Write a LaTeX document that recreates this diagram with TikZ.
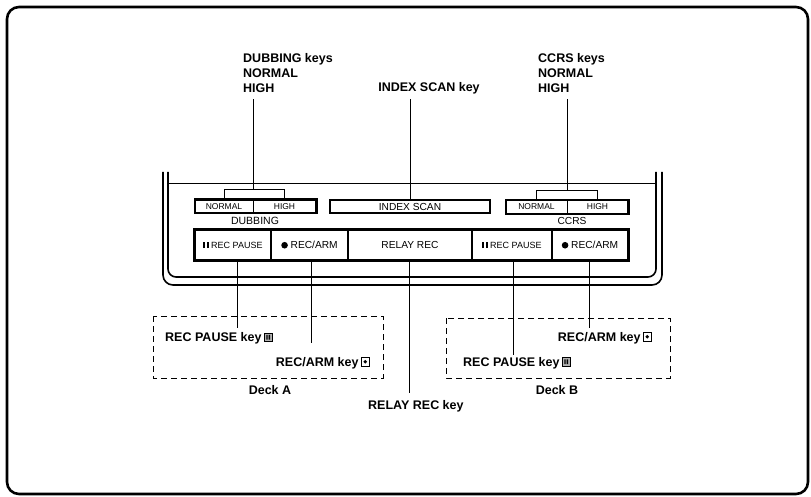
\documentclass[tikz,border=0pt]{standalone}
\usepackage{fontspec}
\setmainfont{Liberation Sans}
\usetikzlibrary{positioning}

\newcommand{\pauseicon}{\tikz[baseline=0pt]{\draw[line width=0.6pt,fill=gray!60] (0pt,0pt) rectangle (8.5pt,8.5pt); \fill (2.4pt,1.8pt) rectangle (3.7pt,6.7pt) (4.8pt,1.8pt) rectangle (6.1pt,6.7pt);}}
\newcommand{\armicon}{\tikz[baseline=0pt]{\draw[line width=0.6pt] (0pt,0pt) rectangle (8.5pt,8.5pt); \fill (4.25pt,4.25pt) circle (1.9pt);}}
\newcommand{\pausebars}{\rule{2pt}{6.5pt}\hspace{1.2pt}\rule{2pt}{6.5pt}}
\newcommand{\armdot}{\tikz[baseline=0pt]\fill (0pt,3.4pt) circle (3.3pt);}

\begin{document}
\begin{tikzpicture}[x=1pt, y=-1pt,
  lbl/.style={font=\fontsize{12.5}{15}\selectfont\bfseries, inner sep=0pt},
  keybox/.style={draw, line width=0.8pt, inner sep=0pt, minimum height=13pt, font=\fontsize{8.5}{10}\selectfont},
  padkey/.style={draw, line width=1.6pt, inner sep=0pt, minimum height=30pt, font=\fontsize{10.2}{12}\selectfont},
  leader/.style={line width=0.9pt},
  deckbox/.style={line width=0.8pt, dash pattern=on 6pt off 4pt}]

\useasboundingbox (0,0) rectangle (811,497);
\draw[line width=2.6pt, rounded corners=12pt] (7,7) rectangle (808,494);

% panel outline
\draw[line width=1.6pt, rounded corners=10pt] (163,172) -- (163,285) -- (662,285) -- (662,172);
\draw[line width=1.6pt, rounded corners=8pt] (168,172) -- (168,277) -- (656,277) -- (656,172);
\draw[line width=0.7pt] (168,183) -- (656,183);

% upper keys
\node[keybox, minimum width=58pt] (dubNormal) at (224,206.5) {NORMAL};
\node[keybox, minimum width=63pt] (dubHigh) at (284.5,206.5) {HIGH};
\draw[line width=2.2pt] (dubNormal.north west) rectangle (dubHigh.south east);
\node[font=\fontsize{10.5}{12}\selectfont, inner sep=0pt] (dubLabel) at (255,221) {DUBBING};

\node[keybox, line width=2.2pt, minimum width=160pt, font=\fontsize{10.2}{12}\selectfont] (idxScan) at (410,206.5) {INDEX SCAN};

\node[keybox, minimum width=61pt] (ccrsNormal) at (536.5,207) {NORMAL};
\node[keybox, minimum width=61pt] (ccrsHigh) at (597.5,207) {HIGH};
\draw[line width=2.2pt] (ccrsNormal.north west) rectangle (ccrsHigh.south east);
\node[font=\fontsize{10.2}{12}\selectfont, inner sep=0pt] (ccrsLabel) at (572,221) {CCRS};

% lower keys
\node[padkey, minimum width=76pt] (pauseA) at (233,245) {{\fontsize{9}{10}\selectfont\pausebars\ REC PAUSE}};
\node[padkey, minimum width=77pt] (armA) at (309.5,245) {\armdot\ REC/ARM};
\node[padkey, minimum width=124pt] (relay) at (410,245) {RELAY REC};
\node[padkey, minimum width=80pt] (pauseB) at (512,245) {{\fontsize{9}{10}\selectfont\pausebars\ REC PAUSE}};
\node[padkey, minimum width=76pt] (armB) at (590,245) {\armdot\ REC/ARM};
\draw[line width=2.6pt] (pauseA.north west) rectangle (armB.south east);

% labels above
\node[lbl, anchor=north west, align=left] (dubKeys) at (243,53.5) {DUBBING keys\\NORMAL\\HIGH};
\node[lbl, anchor=base] (idxKey) at (429,92) {INDEX SCAN key};
\node[lbl, anchor=north west, align=left] (ccrsKeys) at (538,53.5) {CCRS keys\\NORMAL\\HIGH};

\draw[leader] (dubNormal.north) -- ++(0,-10) -| (dubHigh.north);
\draw[leader] ([yshift=10pt]dubNormal.north east) -- ([yshift=-6pt]dubNormal.north east |- dubKeys.south);
\draw[leader] (idxScan.north) -- ([yshift=-4pt]idxScan.north |- idxKey.south);
\draw[leader] (ccrsNormal.north) -- ++(0,-10) -| (ccrsHigh.north);
\draw[leader] ([yshift=10pt]ccrsNormal.north east) -- ([yshift=-6pt]ccrsNormal.north east |- ccrsKeys.south);

% deck A
\draw[deckbox] (153,316) rectangle (383,378);
\node[lbl, anchor=base west] (pauseKeyA) at (165,341.5) {REC PAUSE key\,\pauseicon};
\node[lbl, anchor=base east] (armKeyA) at (370,366) {REC/ARM key\,\armicon};
\node[lbl, anchor=base] (deckA) at (270,394) {Deck A};

% deck B
\draw[deckbox] (446,318) rectangle (670,378);
\node[lbl, anchor=base east] (armKeyB) at (652,341) {REC/ARM key\,\armicon};
\node[lbl, anchor=base west] (pauseKeyB) at (463,366) {REC PAUSE key\,\pauseicon};
\node[lbl, anchor=base] (deckB) at (557,394) {Deck B};

\node[lbl, anchor=base west] (relayKey) at (368,409) {RELAY REC key};

% leaders below
\draw[leader] ([xshift=4pt]pauseA.south) -- ([xshift=4pt, yshift=4.5pt]pauseA.south |- pauseKeyA.north);
\draw[leader] ([xshift=1.5pt]armA.south) -- ([xshift=1.5pt, yshift=14pt]armA.south |- armKeyA.north);
\draw[leader] ([xshift=-1pt]relay.south) -- ([xshift=-1pt, yshift=7pt]relay.south |- relayKey.north);
\draw[leader] ([xshift=1pt]pauseB.south) -- ([xshift=1pt, yshift=2pt]pauseB.south |- pauseKeyB.north);
\draw[leader] ([xshift=-1pt]armB.south) -- ([xshift=-1pt, yshift=4pt]armB.south |- armKeyB.north);
\end{tikzpicture}
\end{document}
